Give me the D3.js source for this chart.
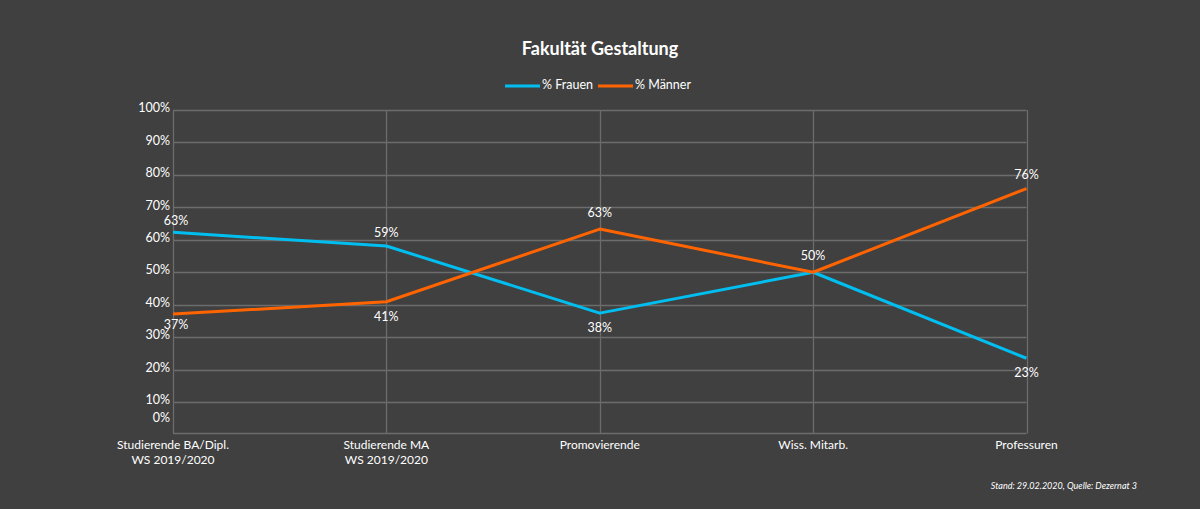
<!DOCTYPE html>
<html><head><meta charset="utf-8">
<script src="https://cdn.jsdelivr.net/npm/d3@7"></script>
<style>
html,body{margin:0;padding:0;background:#404040;}
svg{display:block;}
text{font-family:Lato,"Open Sans",sans-serif;fill:#ffffff;}
</style></head>
<body>
<svg id="chart" width="1200" height="509"></svg>
<script>
const categories = [["Studierende BA/Dipl.","WS 2019/2020"],["Studierende MA","WS 2019/2020"],["Promovierende"],["Wiss. Mitarb."],["Professuren"]];
const frauen = [62.3, 58.1, 37.4, 50, 23.5];
const maenner = [37.1, 40.9, 63.3, 50, 75.8];
const frauenLabels = ["63%","59%","38%","50%","23%"];
const maennerLabels = ["37%","41%","63%","","76%"];
const yTicks = [0,10,20,30,40,50,60,70,80,90,100];
const seriesNames = ["% Frauen","% Männer"];
const colors = ["#00bff0","#ff6400"];

const svg = d3.select("#chart");
svg.append("rect").attr("width",1200).attr("height",509).attr("fill","#404040");

const x = d3.scalePoint().domain(d3.range(categories.length)).range([173,1026.5]);
const y = d3.scaleLinear().domain([0,100]).range([434.5,110]);

// grid
const g = svg.append("g");
g.selectAll("line.h").data(yTicks.filter(t=>t>0)).join("line")
  .attr("x1",173).attr("x2",1026.5).attr("y1",d=>Math.round(y(d))+0.5).attr("y2",d=>Math.round(y(d))+0.5)
  .attr("stroke","#6c6c6c").attr("stroke-width",1.3);
g.selectAll("line.v").data(d3.range(categories.length)).join("line")
  .attr("x1",d=>Math.round(x(d))+0.5).attr("x2",d=>Math.round(x(d))+0.5).attr("y1",110).attr("y2",433.5)
  .attr("stroke","#6c6c6c").attr("stroke-width",1.3);
g.append("line").attr("x1",173).attr("x2",1026.5).attr("y1",433.5).attr("y2",433.5).attr("stroke","#6c6c6c").attr("stroke-width",1.3);

// y tick labels
svg.append("g").selectAll("text").data(yTicks).join("text")
  .attr("x",170).attr("y",d=> d===0 ? 419 : y(d)-1)
  .attr("text-anchor","end").attr("dominant-baseline","middle")
  .attr("font-size",12.5).text(d=>d+"%");

// x labels
const xl = svg.append("g").selectAll("text").data(categories).join("text")
  .attr("text-anchor","middle").attr("font-size",12)
  .attr("transform",(d,i)=>`translate(${x(i)},449)`);
xl.each(function(lines){
  d3.select(this).selectAll("tspan").data(lines).join("tspan")
    .attr("x",0).attr("dy",(d,j)=>j===0?0:14.5).text(d=>d);
});

// lines
const line = d3.line().x((d,i)=>x(i)).y(d=>y(d));
[frauen, maenner].forEach((s,k)=>{
  svg.append("path").datum(s).attr("d",line).attr("fill","none")
    .attr("stroke",colors[k]).attr("stroke-width",3).attr("stroke-linejoin","round");
});

// data labels
const fOff = [-11,-12,16,-15,16];
const mOff = [12,16,-15,0,-13];
svg.append("g").selectAll("text").data(frauen).join("text")
  .attr("x",(d,i)=>x(i)+ (i===0?3:0)).attr("y",(d,i)=>y(d)+fOff[i])
  .attr("text-anchor","middle").attr("dominant-baseline","middle").attr("font-size",12.5)
  .text((d,i)=>frauenLabels[i]);
svg.append("g").selectAll("text").data(maenner).join("text")
  .attr("x",(d,i)=>x(i)+ (i===0?3:0)).attr("y",(d,i)=>y(d)+mOff[i])
  .attr("text-anchor","middle").attr("dominant-baseline","middle").attr("font-size",12.5)
  .text((d,i)=>maennerLabels[i]);

// title
svg.append("text").attr("x",600).attr("y",55).attr("text-anchor","middle")
  .attr("font-size",18).attr("font-weight","bold").text("Fakultät Gestaltung");

// legend
const leg = svg.append("g");
const legX = [505,598];
seriesNames.forEach((n,k)=>{
  leg.append("line").attr("x1",legX[k]).attr("x2",legX[k]+35).attr("y1",86).attr("y2",86)
    .attr("stroke",colors[k]).attr("stroke-width",3);
  leg.append("text").attr("x",legX[k]+37).attr("y",86).attr("dominant-baseline","middle")
    .attr("font-size",12.5).text(n);
});

// footnote
svg.append("text").attr("x",1137).attr("y",489).attr("text-anchor","end")
  .attr("font-size",9).attr("font-style","italic").text("Stand: 29.02.2020, Quelle: Dezernat 3");
</script>
</body></html>
